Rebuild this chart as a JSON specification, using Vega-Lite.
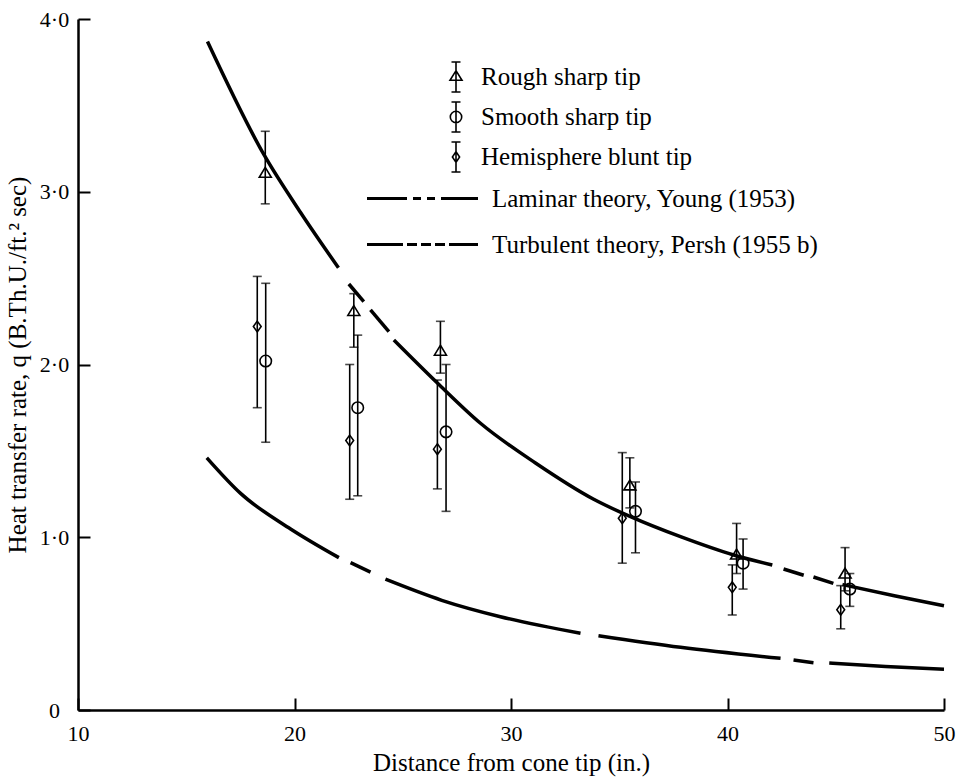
{
  "$schema": "https://vega.github.io/schema/vega-lite/v6.json",
  "width": 866,
  "height": 691,
  "autosize": {"type": "none"},
  "padding": {"left": 78, "top": 19, "right": 16, "bottom": 68},
  "background": "white",
  "config": {
    "font": "Liberation Serif",
    "view": {"stroke": null},
    "axis": {
      "grid": false,
      "domainColor": "black",
      "domainWidth": 2.5,
      "tickColor": "black",
      "tickWidth": 2,
      "tickSize": -12,
      "labelFont": "Liberation Serif",
      "labelFontSize": 22,
      "labelColor": "black",
      "titleFont": "Liberation Serif",
      "titleFontSize": 25,
      "titleFontWeight": "normal",
      "titleColor": "black"
    },
    "legend": {
      "orient": "none",
      "title": null,
      "padding": 0,
      "labelFont": "Liberation Serif",
      "labelFontSize": 25,
      "labelColor": "black",
      "labelLimit": 500,
      "symbolOpacity": 1
    }
  },
  "datasets": {
    "curves": [
      {"theory": "Turbulent theory, Persh (1955 b)", "piece": "t1", "x": 15.98, "q": 3.87},
      {"theory": "Turbulent theory, Persh (1955 b)", "piece": "t1", "x": 18.61, "q": 3.21},
      {"theory": "Turbulent theory, Persh (1955 b)", "piece": "t1", "x": 20.28, "q": 2.88},
      {"theory": "Turbulent theory, Persh (1955 b)", "piece": "t1", "x": 22.03, "q": 2.56},
      {"theory": "Turbulent theory, Persh (1955 b)", "piece": "t2", "x": 22.51, "q": 2.466},
      {"theory": "Turbulent theory, Persh (1955 b)", "piece": "t2", "x": 23.2, "q": 2.364},
      {"theory": "Turbulent theory, Persh (1955 b)", "piece": "t3", "x": 23.51, "q": 2.316},
      {"theory": "Turbulent theory, Persh (1955 b)", "piece": "t3", "x": 24.36, "q": 2.19},
      {"theory": "Turbulent theory, Persh (1955 b)", "piece": "t4", "x": 24.59, "q": 2.142},
      {"theory": "Turbulent theory, Persh (1955 b)", "piece": "t4", "x": 26.6, "q": 1.893},
      {"theory": "Turbulent theory, Persh (1955 b)", "piece": "t4", "x": 28.59, "q": 1.66},
      {"theory": "Turbulent theory, Persh (1955 b)", "piece": "t4", "x": 31.13, "q": 1.43},
      {"theory": "Turbulent theory, Persh (1955 b)", "piece": "t4", "x": 33.82, "q": 1.22},
      {"theory": "Turbulent theory, Persh (1955 b)", "piece": "t4", "x": 35.52, "q": 1.119},
      {"theory": "Turbulent theory, Persh (1955 b)", "piece": "t4", "x": 37.83, "q": 1.003},
      {"theory": "Turbulent theory, Persh (1955 b)", "piece": "t4", "x": 40.29, "q": 0.897},
      {"theory": "Turbulent theory, Persh (1955 b)", "piece": "t4", "x": 42.07, "q": 0.839},
      {"theory": "Turbulent theory, Persh (1955 b)", "piece": "t5", "x": 42.59, "q": 0.816},
      {"theory": "Turbulent theory, Persh (1955 b)", "piece": "t5", "x": 43.52, "q": 0.78},
      {"theory": "Turbulent theory, Persh (1955 b)", "piece": "t6", "x": 43.97, "q": 0.77},
      {"theory": "Turbulent theory, Persh (1955 b)", "piece": "t6", "x": 44.89, "q": 0.733},
      {"theory": "Turbulent theory, Persh (1955 b)", "piece": "t7", "x": 45.31, "q": 0.726},
      {"theory": "Turbulent theory, Persh (1955 b)", "piece": "t7", "x": 47.76, "q": 0.66},
      {"theory": "Turbulent theory, Persh (1955 b)", "piece": "t7", "x": 50.0, "q": 0.604},
      {"theory": "Laminar theory, Young (1953)", "piece": "l1", "x": 15.95, "q": 1.46},
      {"theory": "Laminar theory, Young (1953)", "piece": "l1", "x": 17.51, "q": 1.254},
      {"theory": "Laminar theory, Young (1953)", "piece": "l1", "x": 19.82, "q": 1.048},
      {"theory": "Laminar theory, Young (1953)", "piece": "l1", "x": 22.05, "q": 0.882},
      {"theory": "Laminar theory, Young (1953)", "piece": "l2", "x": 22.59, "q": 0.853},
      {"theory": "Laminar theory, Young (1953)", "piece": "l2", "x": 23.51, "q": 0.798},
      {"theory": "Laminar theory, Young (1953)", "piece": "l3", "x": 24.2, "q": 0.757},
      {"theory": "Laminar theory, Young (1953)", "piece": "l3", "x": 26.8, "q": 0.635},
      {"theory": "Laminar theory, Young (1953)", "piece": "l3", "x": 29.51, "q": 0.54},
      {"theory": "Laminar theory, Young (1953)", "piece": "l3", "x": 33.21, "q": 0.444},
      {"theory": "Laminar theory, Young (1953)", "piece": "l4", "x": 34.04, "q": 0.43},
      {"theory": "Laminar theory, Young (1953)", "piece": "l4", "x": 37.83, "q": 0.363},
      {"theory": "Laminar theory, Young (1953)", "piece": "l4", "x": 42.45, "q": 0.299},
      {"theory": "Laminar theory, Young (1953)", "piece": "l5", "x": 43.05, "q": 0.289},
      {"theory": "Laminar theory, Young (1953)", "piece": "l5", "x": 43.97, "q": 0.274},
      {"theory": "Laminar theory, Young (1953)", "piece": "l6", "x": 44.7, "q": 0.272},
      {"theory": "Laminar theory, Young (1953)", "piece": "l6", "x": 47.3, "q": 0.252},
      {"theory": "Laminar theory, Young (1953)", "piece": "l6", "x": 50.0, "q": 0.236}
    ],
    "measurements": [
      {"tip": "Rough sharp tip", "x": 18.65, "q": 3.11, "lo": 2.93, "hi": 3.35},
      {"tip": "Rough sharp tip", "x": 22.74, "q": 2.31, "lo": 2.1, "hi": 2.41},
      {"tip": "Rough sharp tip", "x": 26.74, "q": 2.08, "lo": 1.95, "hi": 2.25},
      {"tip": "Rough sharp tip", "x": 35.49, "q": 1.3, "lo": 1.17, "hi": 1.46},
      {"tip": "Rough sharp tip", "x": 40.42, "q": 0.9, "lo": 0.79, "hi": 1.08},
      {"tip": "Rough sharp tip", "x": 45.43, "q": 0.79, "lo": 0.69, "hi": 0.94},
      {"tip": "Smooth sharp tip", "x": 18.67, "q": 2.02, "lo": 1.55, "hi": 2.47},
      {"tip": "Smooth sharp tip", "x": 22.92, "q": 1.75, "lo": 1.24, "hi": 2.17},
      {"tip": "Smooth sharp tip", "x": 27.0, "q": 1.61, "lo": 1.15, "hi": 2.0},
      {"tip": "Smooth sharp tip", "x": 35.75, "q": 1.15, "lo": 0.91, "hi": 1.32},
      {"tip": "Smooth sharp tip", "x": 40.72, "q": 0.85, "lo": 0.7, "hi": 0.99},
      {"tip": "Smooth sharp tip", "x": 45.65, "q": 0.7, "lo": 0.6, "hi": 0.79},
      {"tip": "Hemisphere blunt tip", "x": 18.28, "q": 2.22, "lo": 1.75, "hi": 2.51},
      {"tip": "Hemisphere blunt tip", "x": 22.55, "q": 1.56, "lo": 1.22, "hi": 2.0},
      {"tip": "Hemisphere blunt tip", "x": 26.6, "q": 1.51, "lo": 1.28, "hi": 1.91},
      {"tip": "Hemisphere blunt tip", "x": 35.14, "q": 1.11, "lo": 0.85, "hi": 1.49},
      {"tip": "Hemisphere blunt tip", "x": 40.22, "q": 0.71, "lo": 0.55, "hi": 0.84},
      {"tip": "Hemisphere blunt tip", "x": 45.23, "q": 0.58, "lo": 0.47, "hi": 0.72}
    ]
  },
  "encoding": {
    "x": {
      "field": "x", "type": "quantitative",
      "scale": {"domain": [10, 50], "nice": false, "zero": false},
      "axis": {"values": [10, 20, 30, 40, 50], "labelPadding": 25, "titlePadding": 6, "labelFlush": false},
      "title": "Distance from cone tip (in.)"
    },
    "y": {
      "field": "q", "type": "quantitative",
      "scale": {"domain": [0, 4], "nice": false},
      "axis": {
        "values": [0, 1, 2, 3, 4],
        "labelExpr": "datum.value === 0 ? '0' : replace(format(datum.value, '.1f'), '.', '·')",
        "labelAlign": "center",
        "labelPadding": 36,
        "titlePadding": 9
      },
      "title": "Heat transfer rate, q (B.Th.U./ft.² sec)"
    }
  },
  "layer": [
    {
      "data": {"name": "curves"},
      "mark": {"type": "line", "color": "black", "strokeWidth": 3.5, "interpolate": "monotone", "strokeCap": "butt"},
      "encoding": {"detail": {"field": "piece"}}
    },
    {
      "description": "key for the two theory curves (marks hidden, only the legend shows)",
      "data": {"name": "curves"},
      "mark": {"type": "line", "color": "black", "opacity": 0, "strokeWidth": 3},
      "encoding": {
        "detail": {"field": "piece"},
        "strokeDash": {
          "field": "theory", "type": "nominal",
          "scale": {
            "domain": ["Laminar theory, Young (1953)", "Turbulent theory, Persh (1955 b)"],
            "range": [[40, 6, 8, 6, 8, 6, 37], [36, 4, 10, 4, 10, 4, 10, 4, 29]]
          },
          "legend": {
            "legendX": 329, "legendY": 164,
            "symbolType": "M-4,0L4,0", "symbolSize": 770, "symbolStrokeWidth": 3, "symbolStrokeColor": "black",
            "labelOffset": 54, "rowPadding": 17
          }
        }
      }
    },
    {
      "data": {"name": "measurements"},
      "mark": {"type": "errorbar", "ticks": {"size": 9, "thickness": 1.6, "color": "black"}, "rule": {"strokeWidth": 1.6, "color": "black"}},
      "encoding": {
        "y": {
          "field": "lo", "type": "quantitative",
          "scale": {"domain": [0, 4], "nice": false},
          "axis": {
            "values": [0, 1, 2, 3, 4],
            "labelExpr": "datum.value === 0 ? '0' : replace(format(datum.value, '.1f'), '.', '·')",
            "labelAlign": "center",
            "labelPadding": 36,
            "titlePadding": 9
          },
          "title": "Heat transfer rate, q (B.Th.U./ft.² sec)"
        },
        "y2": {"field": "hi"}
      }
    },
    {
      "data": {"name": "measurements"},
      "transform": [{"filter": "datum.tip === 'Rough sharp tip'"}],
      "mark": {"type": "point", "filled": false, "color": "black", "opacity": 1, "strokeWidth": 1.6, "size": 144, "shape": "M0,-0.9L1,0.75L-1,0.75Z"}
    },
    {
      "data": {"name": "measurements"},
      "transform": [{"filter": "datum.tip === 'Smooth sharp tip'"}],
      "mark": {"type": "point", "filled": false, "color": "black", "opacity": 1, "strokeWidth": 1.6, "size": 132, "shape": "circle"}
    },
    {
      "data": {"name": "measurements"},
      "transform": [{"filter": "datum.tip === 'Hemisphere blunt tip'"}],
      "mark": {"type": "point", "filled": false, "color": "black", "opacity": 1, "strokeWidth": 1.6, "size": 144, "shape": "M0,-0.9L0.65,0L0,0.9L-0.65,0Z"}
    },
    {
      "description": "key for the three tips: error bar with its marker (marks hidden, only the legend shows)",
      "data": {"name": "measurements"},
      "mark": {"type": "point", "filled": false, "color": "black", "opacity": 0, "strokeWidth": 1.6},
      "encoding": {
        "shape": {
          "field": "tip", "type": "nominal",
          "scale": {
            "domain": ["Rough sharp tip", "Smooth sharp tip", "Hemisphere blunt tip"],
            "range": [
              "M0,-1L0,1M-0.3,-1L0.3,-1M-0.3,1L0.3,1M0,-0.42L0.4,0.22L-0.4,0.22Z",
              "M0,-1L0,1M-0.3,-1L0.3,-1M-0.3,1L0.3,1M-0.38,0A0.38,0.38 0 1 0 0.38,0A0.38,0.38 0 1 0 -0.38,0Z",
              "M0,-1L0,1M-0.3,-1L0.3,-1M-0.3,1L0.3,1M0,-0.36L0.24,0L0,0.36L-0.24,0Z"
            ]
          },
          "legend": {
            "legendX": 362, "legendY": 42,
            "symbolSize": 900, "symbolStrokeWidth": 1.6, "symbolStrokeColor": "black", "symbolFillColor": "transparent",
            "labelOffset": 9, "rowPadding": 2
          }
        }
      }
    }
  ]
}
